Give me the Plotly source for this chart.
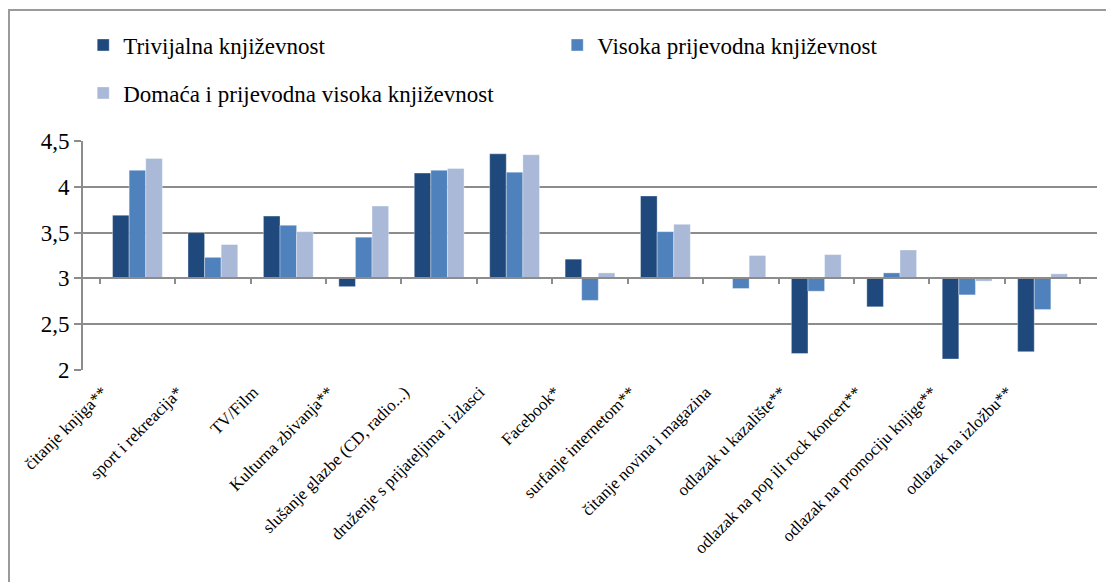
import plotly.graph_objects as go

categories = [
    "čitanje knjiga**", "sport i rekreacija*", "TV/Film", "Kulturna zbivanja**",
    "slušanje glazbe (CD, radio...)", "druženje s prijateljima i izlasci",
    "Facebook*", "surfanje internetom**", "čitanje novina i magazina",
    "odlazak u kazalište**", "odlazak na pop ili rock koncert**",
    "odlazak na promociju knjige**", "odlazak na izložbu**",
]
trivijalna = [3.69, 3.50, 3.68, 2.91, 4.15, 4.36, 3.21, 3.90, 3.00, 2.18, 2.69, 2.12, 2.20]
visoka = [4.18, 3.23, 3.58, 3.45, 4.18, 4.16, 2.76, 3.51, 2.89, 2.86, 3.06, 2.82, 2.66]
domaca = [4.31, 3.37, 3.51, 3.79, 4.20, 4.35, 3.06, 3.59, 3.25, 3.26, 3.31, 2.97, 3.05]

series_names = [
    "Trivijalna književnost",
    "Visoka prijevodna književnost",
    "Domaća i prijevodna visoka književnost",
]
colors = ["#1f497d", "#4f81bd", "#aab9d8"]
legend_ids = ["legend", "legend", "legend2"]  # two entries on the first row, one below
BASE = 3

fig = go.Figure()
for name, vals, col, lg in zip(series_names, [trivijalna, visoka, domaca], colors, legend_ids):
    fig.add_trace(go.Bar(
        x=categories, y=[v - BASE for v in vals], base=BASE, name=name, legend=lg,
        marker=dict(color=col, line=dict(color="rgba(255,255,255,0.35)", width=1)),
    ))

# invisible trace so the category axis crossing at 3 gets drawn
fig.add_trace(go.Scatter(x=categories, y=[BASE] * len(categories), xaxis="x2",
                         mode="markers", marker=dict(opacity=0),
                         showlegend=False, hoverinfo="skip"))

font = "Liberation Serif, Times New Roman, serif"
leg_common = dict(orientation="h", xref="container", xanchor="left",
                  yref="container", yanchor="middle", bgcolor="rgba(0,0,0,0)",
                  font=dict(size=23, family=font), itemwidth=30,
                  entrywidth=429, entrywidthmode="pixels", traceorder="normal")

# page body adds 8px around the figure, so the figure is 8px smaller
fig.update_layout(
    width=1106, height=574,
    margin=dict(l=75, r=17, t=133, b=212),
    paper_bgcolor="white", plot_bgcolor="white",
    font=dict(family=font, color="black"),
    separators=", ",
    barmode="group", bargap=0.34, bargroupgap=0,
    showlegend=True,
    legend=dict(x=0.068, y=1 - 37 / 574, **leg_common),
    legend2=dict(x=0.068, y=1 - 85 / 574, **leg_common),
    xaxis=dict(tickangle=-45, tickfont=dict(size=17), showline=False, ticks="",
               showgrid=False, automargin=False, ticklabelshift=-35,
               ticklabelstandoff=8,
               categoryorder="array", categoryarray=categories),
    xaxis2=dict(overlaying="x", matches="x", anchor="free", position=0.4,
                showline=True, linecolor="#8c8c8c", linewidth=2,
                ticks="outside", tickson="boundaries", ticklen=5,
                tickcolor="#8c8c8c", tickwidth=2, automargin=False,
                showticklabels=False, showgrid=False, side="bottom"),
    yaxis=dict(range=[2, 4.5], dtick=0.5, tickfont=dict(size=23),
               showgrid=True, gridcolor="#8c8c8c", gridwidth=2,
               showline=True, linecolor="#8c8c8c", linewidth=2,
               ticks="outside", ticklen=7, tickcolor="#8c8c8c", tickwidth=2,
               zeroline=False, automargin=False),
    shapes=[dict(type="rect", xref="paper", yref="paper",
                 x0=-0.073, x1=1.05, y0=-1.2, y1=1.572,
                 line=dict(color="#9a9a9a", width=2), layer="below")],
)

fig.write_html("out.html")
